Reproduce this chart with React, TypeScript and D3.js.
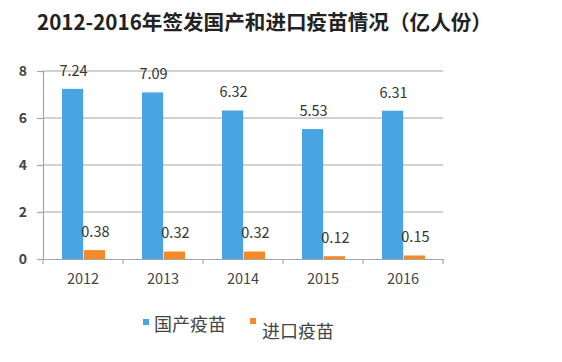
import React, { useEffect, useRef } from 'react';
import * as d3 from 'd3';

const years = ['2012', '2013', '2014', '2015', '2016'];
const domestic = [7.24, 7.09, 6.32, 5.53, 6.31];
const imported = [0.38, 0.32, 0.32, 0.12, 0.15];
const yTicks = [0, 2, 4, 6, 8];
const seriesNames = ['国产疫苗', '进口疫苗'];
const colors = ['#4aa3e2', '#f7892a'];

const W = 562;
const H = 362;
const FONT = '"Noto Sans CJK SC", "Liberation Sans", sans-serif';

const App = () => {
  const svgRef = useRef<SVGSVGElement>(null);

  useEffect(() => {
    const svg = d3.select(svgRef.current);
    svg.selectAll('*').remove();

    const left = 43, right = 443, top = 71, bottom = 259;

    const x = d3.scaleBand().domain(years).range([left, right]);
    const y = d3.scaleLinear().domain([0, 8]).range([bottom, top]);
    const inner = d3.scaleBand().domain(['0', '1']).range([x.bandwidth() / 2 - 21, x.bandwidth() / 2 + 22]).paddingInner(0.03);

    // title
    svg.append('text')
      .attr('x', 37).attr('y', 30)
      .text('2012-2016年签发国产和进口疫苗情况（亿人份）')
      .style('font-family', FONT)
      .style('font-weight', 'bold')
      .style('font-size', '20.6px')
      .attr('fill', '#222');

    // gridlines
    svg.append('g').selectAll('line')
      .data(yTicks.filter(d => d > 0))
      .join('line')
      .attr('x1', left).attr('x2', right)
      .attr('y1', d => y(d)).attr('y2', d => y(d))
      .attr('stroke', '#a6a6a6').attr('stroke-width', 1.2);

    // y axis
    const yAxis = svg.append('g')
      .attr('transform', `translate(${left},0)`)
      .call(d3.axisLeft(y).tickValues(yTicks).tickSize(6).tickPadding(10).tickFormat(d3.format('d')));
    yAxis.select('.domain').attr('stroke', '#a6a6a6').attr('stroke-width', 1.2);
    yAxis.selectAll('.tick line').attr('stroke', '#a6a6a6').attr('stroke-width', 1.2);
    yAxis.selectAll('.tick text')
      .style('font-family', FONT).style('font-size', '14px').style('font-weight', 'bold').attr('fill', '#444');

    // bars
    const groups = svg.append('g').selectAll('g')
      .data(years)
      .join('g')
      .attr('transform', d => `translate(${x(d)},0)`);

    [domestic, imported].forEach((vals, s) => {
      groups.append('rect')
        .attr('x', inner(String(s)))
        .attr('width', inner.bandwidth())
        .attr('y', (d, i) => y(vals[i]))
        .attr('height', (d, i) => y(0) - y(vals[i]))
        .attr('fill', colors[s]);
      groups.append('text')
        .attr('x', inner(String(s)) + inner.bandwidth() / 2 + 1)
        .attr('y', (d, i) => y(vals[i]) - 13)
        .attr('text-anchor', 'middle')
        .text((d, i) => vals[i].toFixed(2))
        .style('font-family', FONT).style('font-size', '14.5px').attr('fill', '#333');
    });

    // x axis
    const xAxis = svg.append('g')
      .attr('transform', `translate(0,${bottom})`)
      .call(d3.axisBottom(x).tickSize(0).tickPadding(15));
    xAxis.select('.domain').attr('stroke', '#a6a6a6').attr('stroke-width', 1.2);
    xAxis.selectAll('.tick text')
      .style('font-family', FONT).style('font-size', '14.5px').attr('fill', '#444');
    xAxis.append('g').selectAll('line')
      .data(d3.range(years.length + 1))
      .join('line')
      .attr('x1', i => left + i * x.step()).attr('x2', i => left + i * x.step())
      .attr('y1', 0).attr('y2', 5)
      .attr('stroke', '#a6a6a6').attr('stroke-width', 1.2);

    // legend
    const legendPos = [[143, 319, 154, 331], [250, 318, 262, 338]];
    seriesNames.forEach((name, i) => {
      const [rx, ry, tx, ty] = legendPos[i];
      svg.append('rect').attr('x', rx).attr('y', ry).attr('width', 6).attr('height', 6).attr('fill', colors[i]);
      svg.append('text').attr('x', tx).attr('y', ty).text(name)
        .style('font-family', FONT).style('font-size', '18px').attr('fill', '#444');
    });
  }, []);

  return (
    <svg ref={svgRef} width={W} height={H} viewBox={`0 0 ${W} ${H}`}
      style={{ position: 'absolute', left: 0, top: 0, background: '#fff' }} />
  );
};

export default App;
